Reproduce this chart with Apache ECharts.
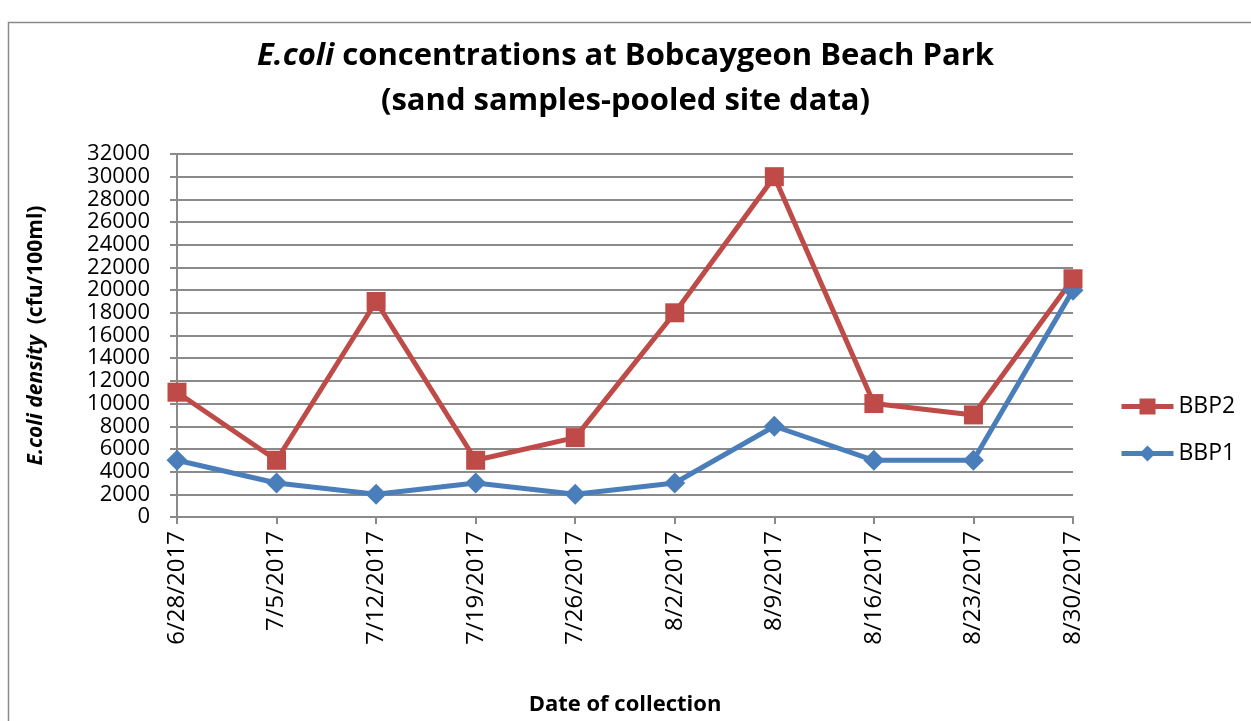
<!DOCTYPE html>
<html>
<head>
<meta charset="utf-8">
<script src="https://cdn.jsdelivr.net/npm/echarts@6/dist/echarts.min.js"></script>
<style>
html,body{margin:0;padding:0;background:#fff;}
#chart{width:1251px;height:721px;}
</style>
</head>
<body>
<div id="chart"></div>
<script>
// dates of collection
var dates = ['6/28/2017','7/5/2017','7/12/2017','7/19/2017','7/26/2017','8/2/2017','8/9/2017','8/16/2017','8/23/2017','8/30/2017'];
// E.coli density per site (cfu/100ml)
var bbp1 = [5000, 3000, 2000, 3000, 2000, 3000, 8000, 5000, 5000, 20000];
var bbp2 = [11000, 5000, 19000, 5000, 7000, 18000, 30000, 10000, 9000, 21000];

var font = 'Open Sans';
var chart = echarts.init(document.getElementById('chart'));
chart.setOption({
    animation: false,
    textStyle: {fontFamily: font},
    graphic: [{
        type: 'rect',
        shape: {x: 8.5, y: 22.5, width: 1400, height: 900},
        style: {fill: 'none', stroke: '#8a8a8a', lineWidth: 1.5},
        silent: true
    }],
    title: [{
        text: '{i|E.coli} concentrations at Bobcaygeon Beach Park',
        left: 'center',
        top: 36,
        textStyle: {
            fontSize: 31, fontWeight: 'bold', color: '#000', fontFamily: font,
            rich: {i: {fontSize: 31, fontWeight: 'bold', fontStyle: 'italic', color: '#000', fontFamily: font}}
        }
    }, {
        text: '(sand samples-pooled site data)',
        left: 'center',
        top: 81,
        textStyle: {fontSize: 31, fontWeight: 'bold', color: '#000', fontFamily: font}
    }],
    legend: {
        orient: 'vertical',
        left: 1114,
        top: 390,
        itemGap: 24,
        itemWidth: 52,
        itemHeight: 20,
        data: ['BBP2', 'BBP1'],
        lineStyle: {width: 5},
        textStyle: {fontSize: 23, color: '#000', fontFamily: font}
    },
    grid: {left: 177, right: 178, top: 154, bottom: 202, containLabel: false},
    xAxis: {
        type: 'category',
        data: dates,
        boundaryGap: false,
        name: 'Date of collection',
        nameLocation: 'middle',
        nameGap: 177,
        nameTextStyle: {fontSize: 22, fontWeight: 'bold', color: '#000', fontFamily: font},
        axisLine: {lineStyle: {color: '#8a8a8a', width: 2}},
        axisTick: {show: true, alignWithLabel: true, length: 7, lineStyle: {color: '#8a8a8a', width: 2}},
        axisLabel: {rotate: 90, fontSize: 24, color: '#000', margin: 14, fontFamily: font}
    },
    yAxis: {
        type: 'value',
        min: 0,
        max: 32000,
        interval: 2000,
        name: '{i|E.coli density}{b|  (cfu/100ml)}',
        nameLocation: 'middle',
        nameRotate: 90,
        nameGap: 130,
        nameTextStyle: {
            fontSize: 21, fontWeight: 'bold', color: '#000', fontFamily: font,
            rich: {
                i: {fontSize: 21, fontWeight: 'bold', fontStyle: 'italic', color: '#000', fontFamily: font},
                b: {fontSize: 21, fontWeight: 'bold', color: '#000', fontFamily: font}
            }
        },
        axisLine: {show: true, lineStyle: {color: '#8a8a8a', width: 2}},
        axisTick: {show: true, length: 7, lineStyle: {color: '#8a8a8a', width: 2}},
        axisLabel: {
            fontSize: 22, lineHeight: 18, color: '#000', margin: 27, fontFamily: font,
            formatter: function (v) { return String(v); }
        },
        splitLine: {lineStyle: {color: '#8a8a8a', width: 2}}
    },
    series: [{
        name: 'BBP1',
        type: 'line',
        data: bbp1,
        symbol: 'diamond',
        symbolSize: 21,
        color: '#4a7ebb',
        lineStyle: {width: 5, color: '#4a7ebb'},
        itemStyle: {color: '#4a7ebb'}
    }, {
        name: 'BBP2',
        type: 'line',
        data: bbp2,
        symbol: 'rect',
        symbolSize: 19,
        color: '#be4b48',
        lineStyle: {width: 5, color: '#be4b48'},
        itemStyle: {color: '#be4b48'}
    }]
});
</script>
</body>
</html>
